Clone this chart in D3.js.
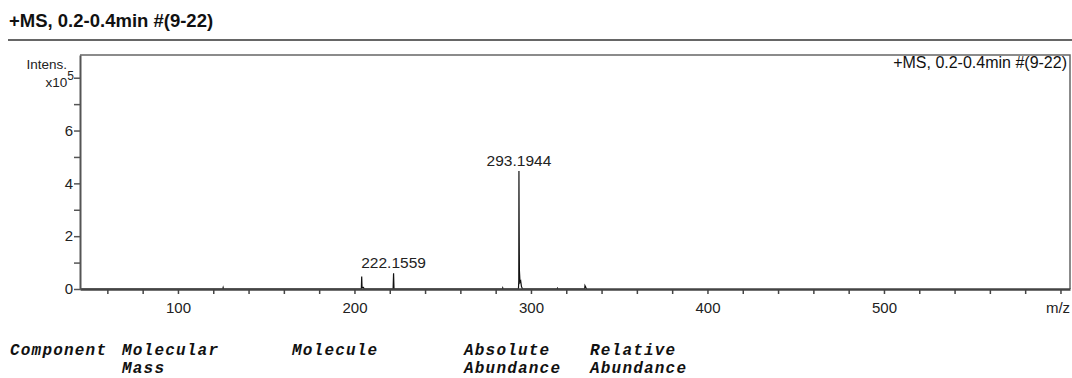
<!DOCTYPE html>
<html>
<head>
<meta charset="utf-8">
<script src="https://cdn.jsdelivr.net/npm/d3@7"></script>
<style>
  body { margin: 0; background: #fff; }
  svg { display: block; font-family: "Liberation Sans", Arial, sans-serif; }
</style>
</head>
<body>
<div id="chart"></div>
<script>
  // spectrum profile, intensity in units of 1e5
  const spectrumMz = [44.5, 125.4, 125.6, 125.8, 203.9, 204.1, 204.3, 205.1, 205.5,
    221.9, 222.16, 222.4, 283.8, 284.0, 284.2,
    292.9, 293.1, 293.19, 293.3, 293.45, 293.8, 294.2, 294.6, 295.2,
    314.8, 315.0, 315.2, 330.4, 330.6, 331.2, 331.6, 605];
  const spectrumIntensity = [0, 0, 0.05, 0, 0, 0.47, 0.05, 0.06, 0,
    0, 0.6, 0, 0, 0.04, 0,
    0, 0.3, 4.47, 2.5, 0.7, 0.25, 0.3, 0.1, 0,
    0, 0.03, 0, 0, 0.13, 0.05, 0];

  const peakLabels = ['222.1559', '293.1944'];
  const peakLabelMz = [222.1559, 293.1944];
  const peakLabelIntensity = [0.6, 4.47];

  const xTicks = [60, 80, 100, 120, 140, 160, 180, 200, 220, 240, 260, 280, 300, 320, 340,
    360, 380, 400, 420, 440, 460, 480, 500, 520, 540, 560, 580, 600];
  const xTickLabels = { 100: '100', 200: '200', 300: '300', 400: '400', 500: '500', 600: 'm/z' };
  const yTicks = [0, 1, 2, 3, 4, 5, 6, 7, 8];
  const yTickLabels = { 0: '0', 2: '2', 4: '4', 6: '6' };

  const titleText = '+MS, 0.2-0.4min #(9-22)';
  const headerLine1 = ['Component', 'Molecular', 'Molecule', 'Absolute', 'Relative'];
  const headerLine2 = ['', 'Mass', '', 'Abundance', 'Abundance'];

  const W = 1072, H = 378;
  const plot = { left: 80, right: 1070, top: 55, bottom: 289 };

  const svg = d3.select('#chart').append('svg')
    .attr('width', W)
    .attr('height', H);

  const x = d3.scaleLinear().domain([44.5, 605.4]).range([plot.left, plot.right]);
  const y = d3.scaleLinear().domain([0, 8.86]).range([plot.bottom, plot.top]);

  // title and rule
  svg.append('text')
    .attr('x', 9).attr('y', 27)
    .attr('font-size', 18.5).attr('font-weight', 'bold')
    .attr('fill', '#111')
    .text(titleText);
  svg.append('line')
    .attr('x1', 8).attr('x2', W).attr('y1', 40).attr('y2', 40)
    .attr('stroke', '#666').attr('stroke-width', 2);

  // frame (top and right)
  svg.append('path')
    .attr('d', `M${plot.left},${plot.top}H${plot.right}V${plot.bottom}`)
    .attr('fill', 'none').attr('stroke', '#666').attr('stroke-width', 1.5);

  svg.append('text')
    .attr('x', 1067).attr('y', 68)
    .attr('text-anchor', 'end')
    .attr('font-size', 16)
    .attr('fill', '#111')
    .text(titleText);

  // spectrum
  const pts = spectrumMz.map((m, i) => [m, spectrumIntensity[i]]);
  const line = d3.line().x(d => x(d[0])).y(d => y(d[1]));
  svg.append('path')
    .datum(pts)
    .attr('d', line)
    .attr('fill', 'none')
    .attr('stroke', '#111')
    .attr('stroke-width', 1.2);

  // peak labels
  svg.selectAll('.plab')
    .data(peakLabels)
    .enter()
    .append('text')
    .attr('class', 'plab')
    .attr('x', (d, i) => x(peakLabelMz[i]))
    .attr('y', (d, i) => y(peakLabelIntensity[i]) - 5)
    .attr('text-anchor', 'middle')
    .attr('font-size', 15.5)
    .attr('fill', '#222')
    .text(d => d);

  // x axis
  const xAxis = d3.axisBottom(x)
    .tickValues(xTicks)
    .tickSize(5)
    .tickSizeOuter(0)
    .tickFormat(d => xTickLabels[d] || '');
  const gx = svg.append('g')
    .attr('transform', `translate(0,${plot.bottom})`)
    .call(xAxis);
  gx.select('.domain').attr('stroke', '#444').attr('stroke-width', 2.5);
  gx.selectAll('.tick line').attr('stroke', '#444').attr('stroke-width', 1.5);
  gx.selectAll('.tick text')
    .attr('font-family', '"Liberation Sans", Arial, sans-serif')
    .attr('font-size', 15).attr('fill', '#222').attr('dy', '1.05em');
  gx.selectAll('.tick text').filter(d => d === 600).attr('x', -3);

  // y axis
  const yAxis = d3.axisLeft(y)
    .tickValues(yTicks)
    .tickSize(6)
    .tickSizeOuter(0)
    .tickFormat(d => yTickLabels[d] || '');
  const gy = svg.append('g')
    .attr('transform', `translate(${plot.left},0)`)
    .call(yAxis);
  gy.select('.domain').attr('stroke', '#555').attr('stroke-width', 2);
  gy.selectAll('.tick line').attr('stroke', '#555').attr('stroke-width', 1.5);
  gy.selectAll('.tick text')
    .attr('font-family', '"Liberation Sans", Arial, sans-serif')
    .attr('font-size', 15).attr('fill', '#222').attr('x', -7);

  // y axis caption
  svg.append('text')
    .attr('x', 67).attr('y', 69)
    .attr('text-anchor', 'end')
    .attr('font-size', 13.5).attr('fill', '#222')
    .text('Intens.');
  const cap = svg.append('text')
    .attr('x', 74).attr('y', 87)
    .attr('text-anchor', 'end')
    .attr('font-size', 13.5).attr('fill', '#222');
  cap.append('tspan').text('x10');
  cap.append('tspan').attr('dy', -7).attr('font-size', 12).text('5');

  // table header below the chart
  const colX = [10, 122, 292, 464, 590];
  const header = svg.append('g')
    .attr('font-family', '"Liberation Mono", "Courier New", monospace')
    .attr('font-weight', 'bold')
    .attr('font-style', 'italic')
    .attr('font-size', 16)
    .attr('letter-spacing', 1.2)
    .attr('fill', '#111');
  header.selectAll('.h1')
    .data(headerLine1)
    .enter()
    .append('text')
    .attr('x', (d, i) => colX[i])
    .attr('y', 355)
    .text(d => d);
  header.selectAll('.h2')
    .data(headerLine2)
    .enter()
    .append('text')
    .attr('x', (d, i) => colX[i])
    .attr('y', 373)
    .text(d => d);
</script>
</body>
</html>
